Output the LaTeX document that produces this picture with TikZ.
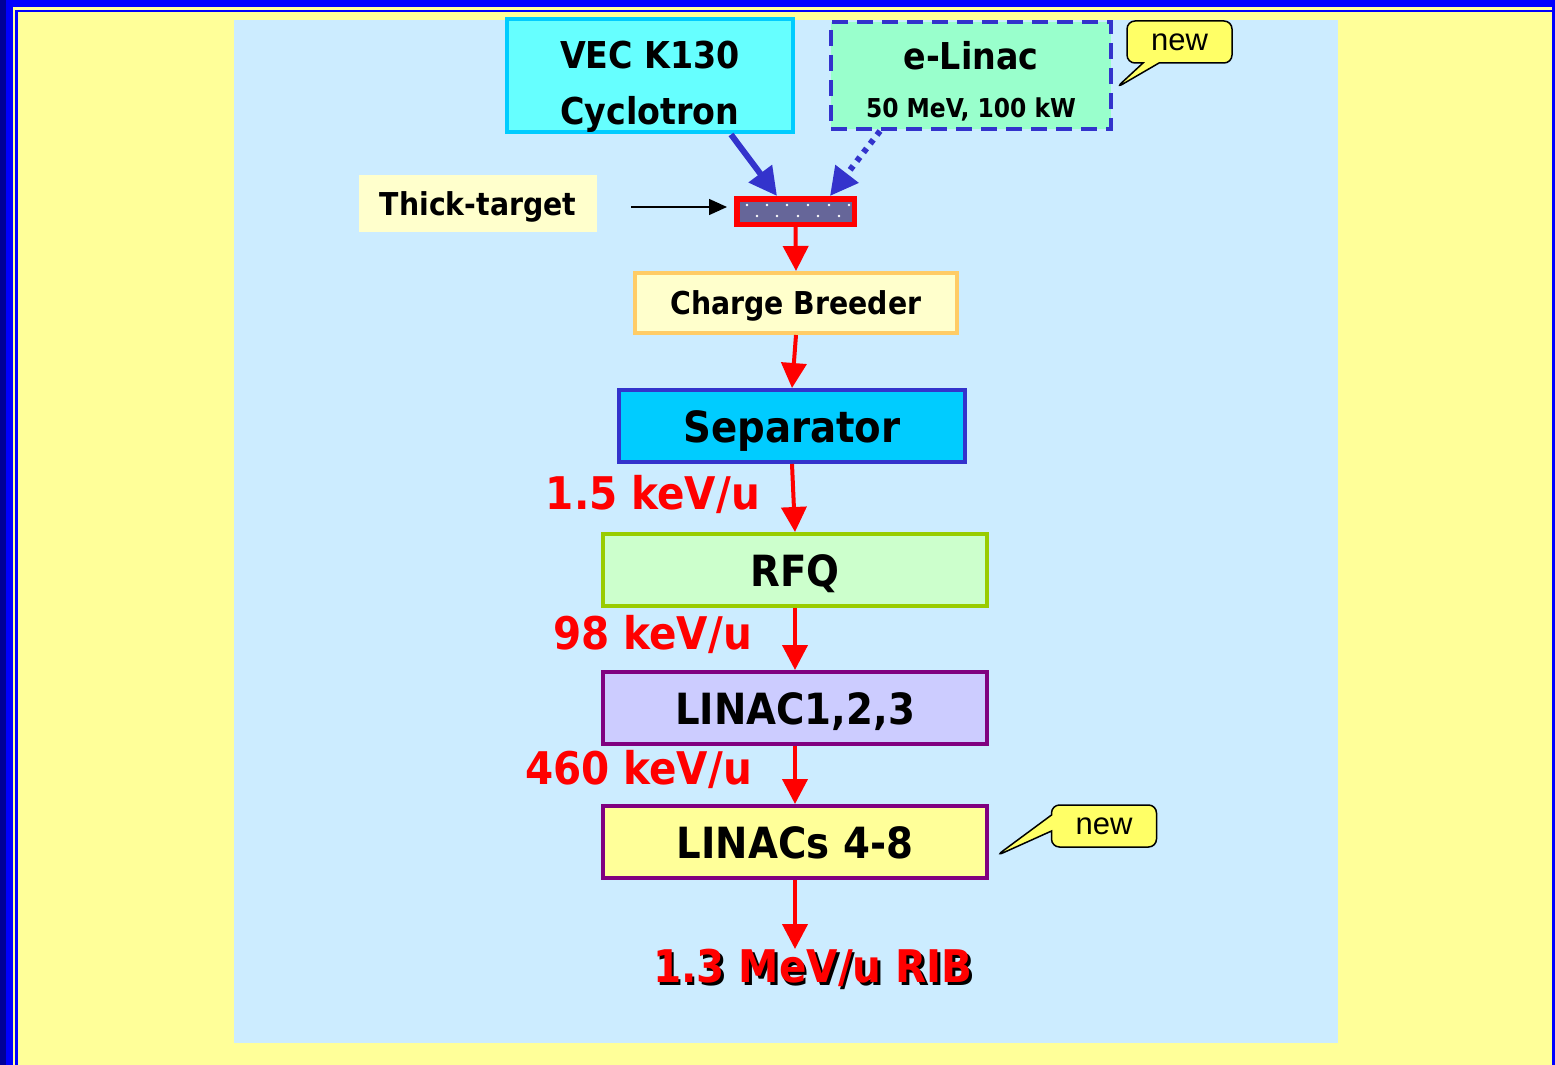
\documentclass[tikz,border=0pt]{standalone}
\usepackage{fontspec}
\setmainfont{DejaVu Sans Condensed}
\newfontfamily\arialfont{Liberation Sans}
\usepackage{tikz}
\usetikzlibrary{arrows.meta,shapes.callouts}
\definecolor{pageyellow}{RGB}{255,255,153}
\definecolor{panelblue}{RGB}{204,236,255}
\definecolor{frameblue}{RGB}{0,0,255}
\definecolor{framedark}{RGB}{0,0,153}
\definecolor{cyanfill}{RGB}{102,255,255}
\definecolor{skyblue}{RGB}{0,204,255}
\definecolor{mintfill}{RGB}{153,255,204}
\definecolor{indigo}{RGB}{51,51,204}
\definecolor{tagyellow}{RGB}{255,255,102}
\definecolor{creamfill}{RGB}{255,255,204}
\definecolor{slatefill}{RGB}{102,102,153}
\definecolor{ribred}{RGB}{255,0,0}
\definecolor{peachdraw}{RGB}{255,204,102}
\definecolor{greenfill}{RGB}{204,255,204}
\definecolor{limedraw}{RGB}{153,204,0}
\definecolor{lilacfill}{RGB}{204,204,255}
\definecolor{plum}{RGB}{128,0,128}
\newcommand{\labeltxt}{\fontsize{45}{52}\selectfont}
\newcommand{\hugetxt}{\fontsize{43}{50}\selectfont}
\newcommand{\bigtxt}{\fontsize{37}{56}\selectfont}
\newcommand{\midtxt}{\fontsize{31.5}{38}\selectfont}
\newcommand{\smalltxt}{\fontsize{26}{32}\selectfont}

\begin{document}
\begin{tikzpicture}[x=1pt,y=-1pt,
  bx/.style={draw,line width=4pt,inner sep=0pt,align=center,font=\bfseries\bigtxt},
  lx/.style={bx,minimum height=72pt,text height=32pt,text depth=0pt,font=\bfseries\hugetxt},
  newtag/.style={rectangle callout,draw=black,line width=1.5pt,fill=tagyellow,
             rounded corners=8pt,minimum width=105pt,minimum height=42pt,inner sep=0pt,
             font=\arialfont\fontsize{31}{36}\selectfont,callout pointer width=16pt},
  kev/.style={anchor=east,inner sep=0pt,text=ribred,font=\bfseries\labeltxt},
  blackarr/.style={-{Triangle[length=18pt,width=16pt]},line width=1.5pt},
  redarr/.style={-{Triangle[length=25pt,width=25pt]},line width=4pt,color=ribred},
  bluearr/.style={-{Triangle[length=28pt,width=28pt]},line width=6pt,color=indigo}]
  \useasboundingbox (0,0) rectangle (1555,1065);
  % page, frame and panel
  \fill[pageyellow] (0,0) rectangle (1555,1065);
  \fill[frameblue] (0,0) rectangle (1555,7);
  \fill[frameblue] (0,0) rectangle (13,1065);
  \fill[framedark] (0,0) rectangle (6,1065);
  \fill[frameblue] (1552,0) rectangle (1555,1065);
  \draw[frameblue,line width=2.5pt] (16.5,1065) -- (16.5,11) -- (1552,11);
  \fill[panelblue] (234,20) rectangle (1338,1043);

  \node[bx,draw=skyblue,fill=cyanfill,minimum width=286pt,minimum height=109pt]
    (vec) at (650,75.5) {\rule{0pt}{50pt}VEC K130\\Cyclotron};
  \node[bx,draw=indigo,fill=mintfill,dash pattern=on 16pt off 9pt,
        minimum width=280pt,minimum height=107pt]
    (elinac) at (971,75.5) {\rule{0pt}{40pt}e-Linac\\[-8pt]{\smalltxt 50 MeV, 100 kW}};
  \node[fill=creamfill,minimum width=238pt,minimum height=57pt,inner sep=0pt,
        text depth=0pt,font=\bfseries\midtxt] (tt) at (478,203.5) {Thick-target};
  \node[draw=ribred,fill=slatefill,line width=5.5pt,minimum width=117.5pt,
        minimum height=25.5pt,inner sep=0pt] (target) at (795.5,211.5) {};
  \foreach \x in {747,767,787,808,829,849} \fill[white] (\x,205) circle (1.3pt);
  \foreach \x in {757,777,798,818,839} \fill[white] (\x,216) circle (1.3pt);

  \node[bx,draw=peachdraw,fill=creamfill,minimum width=322pt,minimum height=60pt,
        text depth=0pt,font=\bfseries\midtxt] (breeder) at (796,303) {Charge Breeder};
  \node[lx,draw=indigo,fill=skyblue,minimum width=346pt] (sep) at (792,426) {Separator};
  \node[lx,draw=limedraw,fill=greenfill,minimum width=384pt] (rfq) at (795,570) {RFQ};
  \node[lx,draw=plum,fill=lilacfill,minimum width=384pt] (linac) at (795,708) {LINAC1,2,3};
  \node[lx,draw=plum,fill=pageyellow,minimum width=384pt] (linacs) at (795,842) {LINACs 4-8};

  \node[kev] (kev15) at (760,494) {1.5 keV/u};
  \node[kev] (kev98) at (752,634) {98 keV/u};
  \node[kev] (kev460) at (752,769) {460 keV/u};
  \node[inner sep=0pt,font=\bfseries\labeltxt] (ribshadow) at (815.5,970.5) {1.3 MeV/u RIB};
  \node[inner sep=0pt,text=ribred,font=\bfseries\labeltxt] (rib) at (813,968) {1.3 MeV/u RIB};

  \coordinate (tipa) at (1116,88);
  \coordinate (tipb) at (996,856);
  \node[newtag,callout absolute pointer={(tipa)}] (newa) at (1179.5,42) {new};
  \node[newtag,callout absolute pointer={(tipb)}] (newb) at (1104,826) {new};

  \draw[blackarr] ([xshift=34pt,yshift=-3.5pt]tt.east) -- ([xshift=-7pt,yshift=4.5pt]target.west);
  \draw[bluearr] ([xshift=81pt]vec.south) -- ([xshift=-18.5pt]target.north);
  \draw[bluearr,dash pattern=on 5pt off 6pt] ([xshift=-91pt]elinac.south) -- ([xshift=34.5pt]target.north);
  \foreach \i/\j in {target/breeder,breeder/sep,sep/rfq,rfq/linac,linac/linacs}{
    \draw[redarr](\i.south)--(\j.north);}
  \draw[redarr](linacs.south)--(linacs.south |- rib.north);
\end{tikzpicture}
\end{document}
